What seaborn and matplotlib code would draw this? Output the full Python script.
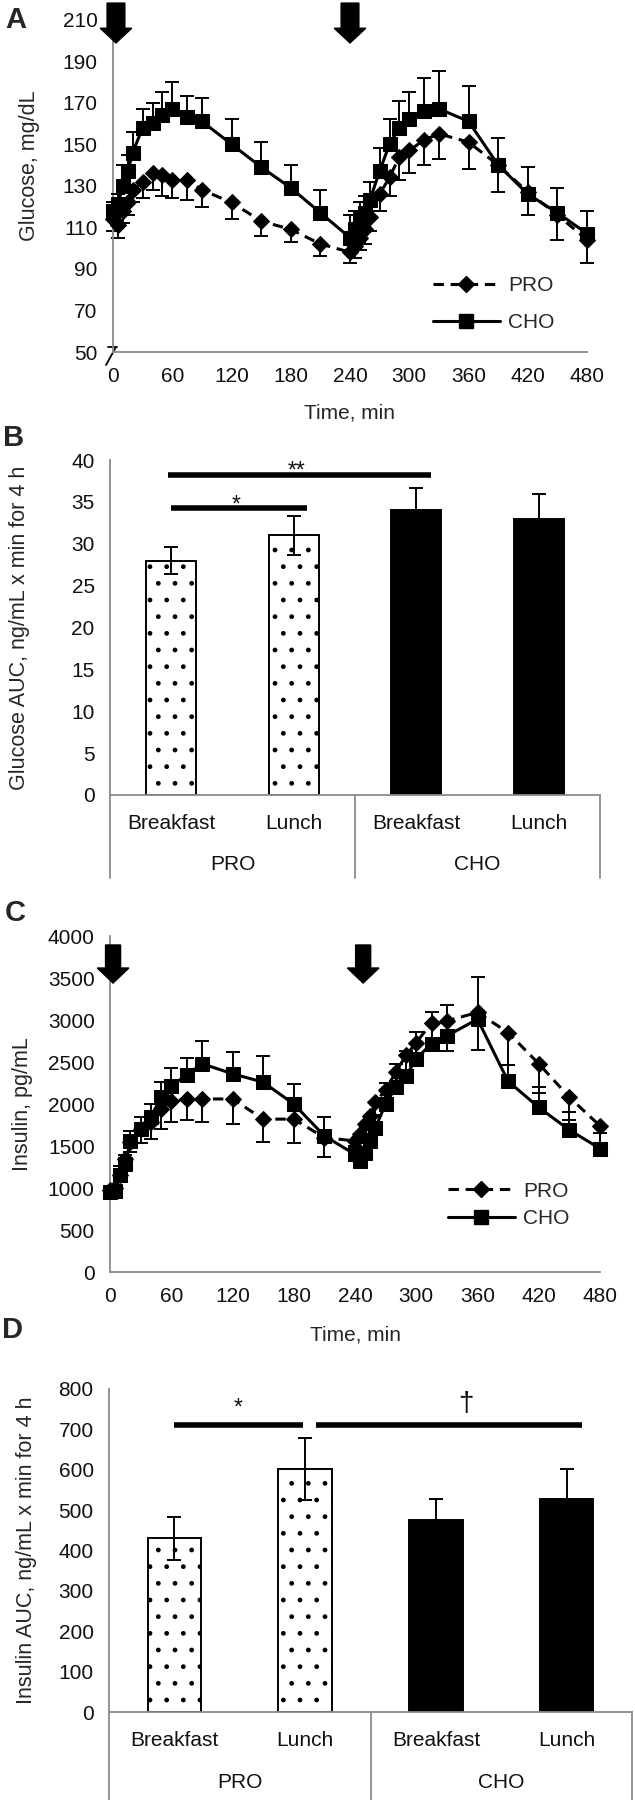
import numpy as np
import pandas as pd
import matplotlib
matplotlib.use("Agg")
import matplotlib.pyplot as plt
from matplotlib.lines import Line2D
from matplotlib.patches import FancyArrow
from matplotlib.transforms import blended_transform_factory
import seaborn as sns

# sampling times, min
times = [0, 5, 10, 15, 20, 30, 40, 50, 60, 75, 90, 120, 150, 180, 210,
         240, 245, 250, 255, 260, 270, 280, 290, 300, 315, 330, 360, 390, 420, 450, 480]

# panel A - glucose, mg/dL (PRO error shown downward, CHO upward)
glucose_pro = [114, 111, 118, 122, 128, 132, 136, 135, 133, 133, 128, 122, 113, 109, 102,
               98, 101, 105, 109, 115, 126, 134, 144, 147, 152, 155, 151, 140, 127, 116, 104]
glucose_pro_sem = [6, 6, 6, 6, 6, 8, 8, 10, 9, 10, 8, 8, 7, 6, 6,
                   5, 6, 6, 7, 7, 8, 9, 11, 11, 12, 12, 13, 13, 11, 12, 11]
glucose_cho = [118, 121, 130, 137, 146, 158, 160, 164, 167, 163, 161, 150, 139, 129, 117,
               105, 109, 114, 117, 123, 137, 150, 158, 162, 166, 167, 161, 140, 126, 117, 107]
glucose_cho_sem = [4, 5, 10, 8, 10, 9, 10, 11, 13, 10, 11, 12, 12, 11, 11,
                   11, 9, 8, 8, 9, 11, 12, 13, 13, 16, 18, 17, 13, 13, 12, 11]

# panel C - insulin, pg/mL
insulin_pro = [980, 1000, 1150, 1350, 1550, 1700, 1780, 1940, 2030, 2060, 2060, 2060, 1820, 1820, 1600,
               1560, 1640, 1760, 1860, 2020, 2170, 2380, 2580, 2730, 2970, 2990, 3090, 2850, 2480, 2080, 1740]
insulin_pro_sem = [50, 60, 80, 100, 120, 160, 200, 240, 250, 250, 280, 300, 270, 280, 230,
                   80, 100, 120, 140, 160, 180, 200, 220, 240, 250, 360, 450, 380, 350, 270, 250]
insulin_cho = [950, 960, 1160, 1280, 1560, 1700, 1840, 2080, 2220, 2340, 2480, 2360, 2260, 2000, 1620,
               1400, 1320, 1420, 1560, 1720, 2000, 2200, 2330, 2540, 2720, 2810, 3010, 2270, 1960, 1690, 1470]
insulin_cho_sem = [60, 80, 100, 110, 120, 140, 160, 180, 210, 210, 270, 260, 310, 235, 230,
                   100, 100, 120, 140, 150, 250, 280, 300, 320, 380, 370, 500, 190, 240, 210, 190]

# panels B and D - AUC bars
bar_groups = ["PRO Breakfast", "PRO Lunch", "CHO Breakfast", "CHO Lunch"]
meal_labels = ["Breakfast", "Lunch", "Breakfast", "Lunch"]
diet_labels = ["PRO", "CHO"]
glucose_auc = [28, 31, 34, 33]
glucose_auc_sem = [1.6, 2.3, 2.6, 2.9]
insulin_auc = [430, 602, 475, 528]
insulin_auc_sem = [54, 76, 52, 73]

# significance bars: (from, to, height, label, label x, label y)
glucose_sig = [(-0.03, 2.12, 38.2, "**", 1.02, 39.5), (0.0, 1.11, 34.3, "*", 0.53, 35.5)]
insulin_sig = [(0.0, 0.98, 712, "*", 0.49, 770), (1.08, 3.12, 712, "\u2020", 2.23, 765)]

# meal times marked by arrows
glucose_meals = [3, 240]
insulin_meals = [3, 248]

sns.set_style("white")
plt.rcParams["font.family"] = ["Liberation Sans", "DejaVu Sans"]

W, H = 635, 1800
GREY = "#8a8a8a"
FS = 15
fig = plt.figure(figsize=(W / 100, H / 100), dpi=100)


def add_axes(left, top, right, bottom):
    return fig.add_axes([left / W, 1 - bottom / H, (right - left) / W, (bottom - top) / H])


def style(ax):
    sns.despine(ax=ax)
    for s in ("left", "bottom"):
        ax.spines[s].set_color(GREY)
        ax.spines[s].set_linewidth(1.3)
    ax.tick_params(colors=GREY, labelcolor="#111111", labelsize=FS, width=1.3, length=6, pad=5)
    ax.grid(False)


def time_panel(ax, pro, pro_err, cho, cho_err, ylim, ystep, ylabel, meals, arrow, legend_pos, spacing):
    zeros = np.zeros(len(times))
    dash = (0, (3.4, 2.2))
    ax.errorbar(times, pro, yerr=[pro_err, zeros], fmt="none", ecolor="black",
                elinewidth=1.4, capsize=5, capthick=1.4, clip_on=False, zorder=2)
    sns.lineplot(x=times, y=pro, ax=ax, color="black", linewidth=2.2, linestyle=dash,
                 marker="D", markersize=8.5, markeredgecolor="black", clip_on=False, zorder=3)
    ax.errorbar(times, cho, yerr=[zeros, cho_err], fmt="none", ecolor="black",
                elinewidth=1.4, capsize=5, capthick=1.4, clip_on=False, zorder=4)
    sns.lineplot(x=times, y=cho, ax=ax, color="black", linewidth=2.2,
                 marker="s", markersize=9.5, markeredgecolor="black", clip_on=False, zorder=5)
    ax.set_xlim(0, 480)
    ax.set_ylim(*ylim)
    ax.set_xticks(range(0, 481, 60))
    ax.set_yticks(np.arange(ylim[0], ylim[1] + 1, ystep))
    style(ax)
    ax.set_xlabel("Time, min", fontsize=FS)
    ax.set_ylabel(ylabel, fontsize=FS + 0.5)
    top, tip, head_len, shaft, head = arrow
    for t in meals:
        ax.add_patch(FancyArrow(t, top, 0, tip - top, width=shaft, head_width=head,
                                head_length=head_len, length_includes_head=True,
                                color="black", clip_on=False, zorder=6))
    handles = [Line2D([], [], color="black", lw=2.2, ls=dash, marker="D", ms=8.5),
               Line2D([], [], color="black", lw=2.2, marker="s", ms=9.5)]
    ax.legend(handles, ["PRO", "CHO"], loc="center left", bbox_to_anchor=legend_pos,
              frameon=False, fontsize=FS, handlelength=3.2, handletextpad=0.4,
              labelspacing=spacing, borderpad=0, borderaxespad=0)


def bar_panel(ax, vals, errs, ylim, ystep, ylabel, sig, label_y, line_bottom):
    df = pd.DataFrame({"group": bar_groups, "value": vals})
    sns.barplot(data=df, x="group", y="value", hue="group",
                palette=["white", "white", "black", "black"], edgecolor="black",
                linewidth=1.4, width=0.41, legend=False, ax=ax, zorder=2)
    for p in ax.patches[:2]:
        p.set_hatch(".")
    ax.errorbar(range(4), vals, yerr=errs, fmt="none", ecolor="black",
                elinewidth=1.4, capsize=5, capthick=1.4, zorder=3)
    ax.set_xlim(-0.5, 3.5)
    ax.set_ylim(*ylim)
    ax.set_yticks(np.arange(ylim[0], ylim[1] + 1, ystep))
    style(ax)
    ax.set_xticks(range(4))
    ax.set_xticklabels(meal_labels)
    ax.tick_params(axis="x", length=0, pad=14)
    ax.set_xlabel("")
    ax.set_ylabel(ylabel, fontsize=FS + 0.5)
    tr = blended_transform_factory(ax.transData, ax.transAxes)
    for x in (-0.5, 1.5, 3.5):
        ax.plot([x, x], [0, line_bottom], transform=tr, color=GREY, lw=1.3, clip_on=False)
    for i, d in enumerate(diet_labels):
        ax.text(0.5 + 2 * i, label_y, d, transform=tr, ha="center", va="center",
                fontsize=FS, color="#111111")
    for x0, x1, y, txt, tx, ty in sig:
        ax.plot([x0, x1], [y, y], color="black", lw=4, solid_capstyle="butt", zorder=4)
        fs = 20 if txt == "\u2020" else 16.5
        off = 0.28 if txt == "\u2020" else 0.59
        ax.annotate(txt, xy=(tx, ty), xytext=(0, -off * fs), textcoords="offset points",
                    ha="center", va="baseline", fontsize=fs, color="#111111")


# A
axA = add_axes(113, 19.5, 587, 352)
time_panel(axA, glucose_pro, glucose_pro_sem, glucose_cho, glucose_cho_sem,
           (50, 210), 20, "Glucose, mg/dL", glucose_meals,
           (217.9, 198.7, 7.1, 18, 32), (0.675, 0.144), 0.85)
axA.xaxis.set_label_coords(0.5, -(413 - 352) / 332.5)
axA.xaxis.label.set_va("center")
axA.yaxis.set_label_coords(-0.154, 0.56)
# axis break mark at the origin
axA.plot([-5 / 474, 4 / 474], [5 / 332.5, 5 / 332.5], transform=axA.transAxes,
         color="black", lw=1.3, clip_on=False)
axA.plot([3 / 474, -7 / 474], [5 / 332.5, -13 / 332.5], transform=axA.transAxes,
         color="black", lw=1.3, clip_on=False)

# B
axB = add_axes(110, 460, 600, 795)
bar_panel(axB, glucose_auc, glucose_auc_sem, (0, 40), 5,
          "Glucose AUC, ng/mL x min for 4 h", glucose_sig, -(864 - 795) / 335, -(878 - 795) / 335)
axB.yaxis.set_label_coords(-0.163, 0.5)

# C
axC = add_axes(110, 936, 600, 1272)
time_panel(axC, insulin_pro, insulin_pro_sem, insulin_cho, insulin_cho_sem,
           (0, 4000), 500, "Insulin, pg/mL", insulin_meals,
           (3893, 3440, 179, 14.7, 31), (0.69, 0.20), 0.4)
axC.xaxis.set_label_coords(0.5, -(1335 - 1272) / 336)
axC.xaxis.label.set_va("center")
axC.yaxis.set_label_coords(-0.157, 0.5)

# D
axD = add_axes(109, 1389, 632, 1712)
bar_panel(axD, insulin_auc, insulin_auc_sem, (0, 800), 100,
          "Insulin AUC, ng/mL x min for 4 h", insulin_sig, -(1782 - 1712) / 323, -(1800 - 1712) / 323)
axD.yaxis.set_label_coords(-0.138, 0.5)

for letter, (x, y) in zip("ABCD", [(16, 20), (14, 438), (15, 913), (13, 1330)]):
    fig.text(x / W, 1 - y / H, letter, fontsize=21, fontweight="bold", ha="center", va="center")

fig.savefig("out.png", dpi=100)
